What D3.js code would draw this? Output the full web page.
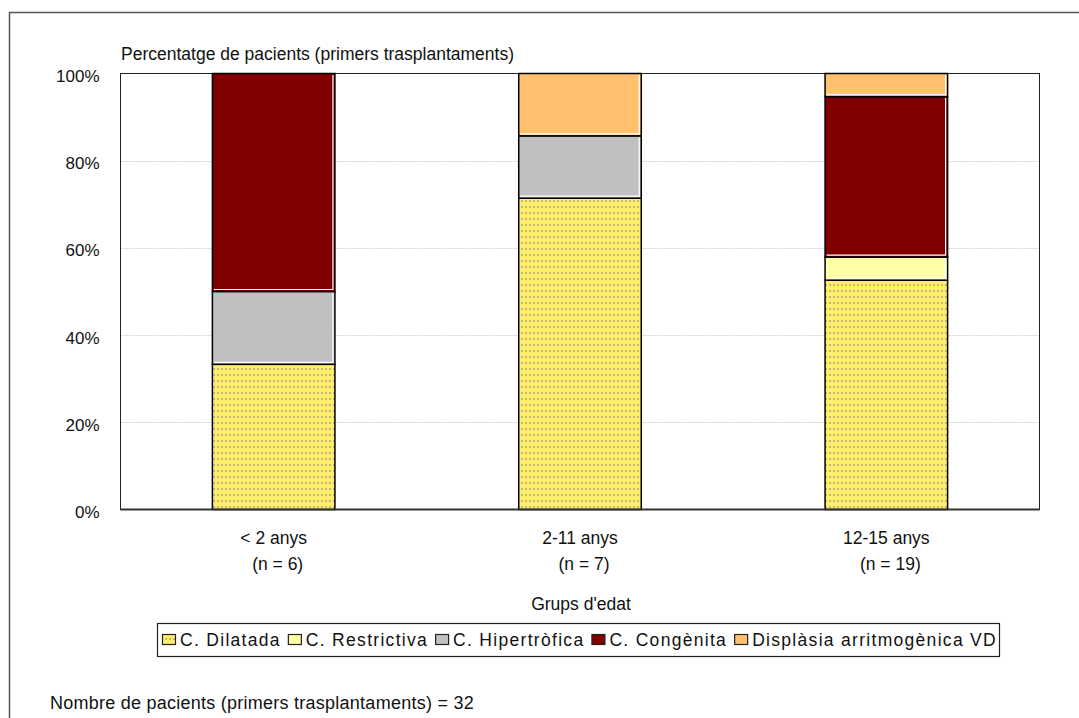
<!DOCTYPE html>
<html>
<head>
<meta charset="utf-8">
<script src="https://cdn.jsdelivr.net/npm/d3@7"></script>
<style>
  html, body { margin: 0; padding: 0; background: #fff; }
  svg { display: block; }
  text { font-family: 'Liberation Sans', Arial, sans-serif; fill: #111; }
</style>
</head>
<body>
<svg id="chart" width="1079" height="718"></svg>
<script>
// ---- Data ----
const categories = ["< 2 anys", "2-11 anys", "12-15 anys"];
const nValues = [6, 7, 19];
const seriesNames = ["C. Dilatada", "C. Restrictiva", "C. Hipertròfica", "C. Congènita", "Displàsia arritmogènica VD"];
const dilatada     = [33.3, 71.4, 52.6];
const restrictiva  = [0.0, 0.0, 5.3];
const hipertrofica = [16.7, 14.3, 0.0];
const congenita    = [50.0, 0.0, 36.8];
const displasia    = [0.0, 14.3, 5.3];
const yTicks = [0, 20, 40, 60, 80, 100];
const yTitle = "Percentatge de pacients (primers trasplantaments)";
const xTitle = "Grups d'edat";
const footer = "Nombre de pacients (primers trasplantaments) = 32";

const seriesValues = [dilatada, restrictiva, hipertrofica, congenita, displasia];
const colors = ["url(#dots)", "#FFFFA6", "#C0C0C0", "#800000", "#FFC16D"];

const rows = categories.map((c, i) => {
  const r = { cat: c };
  seriesNames.forEach((s, j) => r[s] = seriesValues[j][i]);
  return r;
});

const svg = d3.select("#chart");
const defs = svg.append("defs");
const pat = defs.append("pattern").attr("id", "dots")
  .attr("patternUnits", "userSpaceOnUse").attr("width", 4).attr("height", 6);
pat.append("rect").attr("width", 4).attr("height", 6).attr("fill", "#FFEE6C");
pat.append("rect").attr("x", 1).attr("y", 2).attr("width", 2).attr("height", 2).attr("fill", "#C4B77C");

const FS = 17.5;

// outer frame
svg.append("path").attr("d", "M9.5,730 V12.5 H1090")
  .attr("fill", "none").attr("stroke", "#555").attr("stroke-width", 1.5);

const plot = { left: 120.5, top: 73.5, right: 1039.5, bottom: 509.5 };

const x = d3.scaleBand().domain(categories).range([plot.left, plot.right]).paddingInner(0.6).paddingOuter(0.3);
const y = d3.scaleLinear().domain([0, 100]).range([plot.bottom, plot.top]);

// gridlines
svg.append("g").selectAll("line").data(yTicks.filter(t => t > 0 && t < 100)).join("line")
  .attr("x1", plot.left).attr("x2", plot.right)
  .attr("y1", d => Math.round(y(d)) + 0.5).attr("y2", d => Math.round(y(d)) + 0.5)
  .attr("stroke", "#D4D4D4").attr("stroke-width", 1).attr("stroke-dasharray", "2,1");

// plot border
svg.append("rect").attr("x", plot.left).attr("y", plot.top)
  .attr("width", plot.right - plot.left).attr("height", plot.bottom - plot.top)
  .attr("fill", "none").attr("stroke", "#222").attr("stroke-width", 1);

// y axis labels
const yAxis = d3.axisLeft(y).tickValues(yTicks).tickSize(0).tickPadding(21).tickFormat(d => d + "%");
const yg = svg.append("g").attr("transform", `translate(${plot.left},0)`).call(yAxis);
yg.select(".domain").remove();
yg.selectAll("text").style("font-size", "17px").attr("fill", "#111")
  .style("font-family", null).attr("dy", "8px");

// stacked bars
const stack = d3.stack().keys(seriesNames);
const stacked = stack(rows);
const bw = x.bandwidth();
stacked.forEach((layer, j) => {
  const g = svg.append("g");
  layer.forEach((d, i) => {
    if (d[1] - d[0] <= 0) return;
    const x0 = x(categories[i]);
    const yTop = y(d[1]), yBot = y(d[0]);
    g.append("rect").attr("x", x0).attr("y", yTop).attr("width", bw).attr("height", yBot - yTop)
      .attr("fill", colors[j]).attr("stroke", "#000").attr("stroke-width", 1.5);
    if (j !== 0) {
      g.append("path")
        .attr("d", `M${x0 + 1.5},${yBot - 2} H${x0 + bw - 2} V${yTop + 1.5}`)
        .attr("fill", "none").attr("stroke", "#fff").attr("stroke-width", 1.2);
    }
  });
});

// bottom axis line
svg.append("line").attr("x1", plot.left).attr("x2", plot.right)
  .attr("y1", plot.bottom).attr("y2", plot.bottom)
  .attr("stroke", "#333").attr("stroke-width", 2);

// x labels
const xl = svg.append("g");
categories.forEach((c, i) => {
  const cx = x(c) + bw / 2;
  xl.append("text").attr("x", cx).attr("y", 544).attr("text-anchor", "middle")
    .style("font-size", FS + "px").text(c);
  xl.append("text").attr("x", cx + 4).attr("y", 570).attr("text-anchor", "middle")
    .style("font-size", FS + "px").text(`(n = ${nValues[i]})`);
});

// titles
svg.append("text").attr("x", 121).attr("y", 60).style("font-size", FS + "px").text(yTitle);
svg.append("text").attr("x", (plot.left + plot.right) / 2 + 1).attr("y", 610).attr("text-anchor", "middle")
  .style("font-size", FS + "px").text(xTitle);

// legend
const lg = svg.append("g");
lg.append("rect").attr("x", 157.5).attr("y", 623.5).attr("width", 842).attr("height", 33)
  .attr("fill", "#fff").attr("stroke", "#222").attr("stroke-width", 1.2);
const legStart = 162, legEnd = 997, swW = 13, swGap = 5, itemGap = 7;
const tmp = lg.append("g");
let totalW = 0, nChars = 0;
seriesNames.forEach(s => {
  const t = tmp.append("text").style("font-size", FS + "px").text(s);
  totalW += t.node().getComputedTextLength();
  nChars += s.length;
});
tmp.remove();
const avail = (legEnd - legStart) - seriesNames.length * (swW + swGap) - (seriesNames.length - 1) * itemGap;
const ls = Math.max(0, (avail - totalW) / nChars);
let lx = legStart;
seriesNames.forEach((s, j) => {
  lg.append("rect").attr("x", lx + 0.5).attr("y", 634.5).attr("width", swW).attr("height", 10)
    .attr("fill", colors[j]).attr("stroke", "#222").attr("stroke-width", 1.2);
  const t = lg.append("text").attr("x", lx + swW + swGap).attr("y", 646)
    .style("font-size", FS + "px").style("letter-spacing", ls + "px").text(s);
  lx = lx + swW + swGap + t.node().getComputedTextLength() + itemGap;
});

// footer
svg.append("text").attr("x", 50).attr("y", 709).style("font-size", "18px")
  .style("letter-spacing", "0.25px").text(footer);
</script>
</body>
</html>
